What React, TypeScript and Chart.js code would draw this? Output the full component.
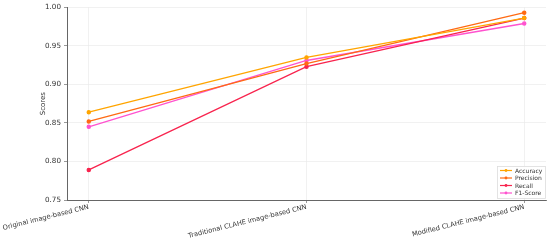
import React, { useEffect, useRef } from "react";
import { Chart, registerables } from "chart.js";

Chart.register(...registerables);

const categories = [
  "Original image-based CNN",
  "Traditional CLAHE image-based CNN",
  "Modified CLAHE image-based CNN",
];
const accuracy = [0.864, 0.935, 0.986];
const precision = [0.852, 0.927, 0.993];
const recall = [0.789, 0.923, 0.986];
const f1Score = [0.845, 0.931, 0.979];
const seriesNames = ["Accuracy", "Precision", "Recall", "F1-Score"];
const seriesColors = ["#ffa500", "#ff6a13", "#f8244e", "#ff52cf"];
const yTicks = [0.75, 0.8, 0.85, 0.9, 0.95, 1.0];

const FONT = "'DejaVu Sans', sans-serif";

const legendPlugin = {
  id: "boxLegend",
  afterDraw(chart: any) {
    const ctx = chart.ctx;
    const area = chart.chartArea;
    const w = 48;
    const h = 32;
    const x0 = area.right - w - 1;
    const y0 = area.bottom - h - 2;
    ctx.save();
    ctx.fillStyle = "rgba(255,255,255,0.9)";
    ctx.strokeStyle = "#dddddd";
    ctx.lineWidth = 0.8;
    ctx.fillRect(x0, y0, w, h);
    ctx.strokeRect(x0 + 0.5, y0 + 0.5, w, h);
    ctx.font = `6px ${FONT}`;
    ctx.textBaseline = "middle";
    chart.data.datasets.forEach((ds: any, i: number) => {
      const y = y0 + 4.5 + i * 7.5;
      ctx.strokeStyle = ds.borderColor;
      ctx.lineWidth = 1.2;
      ctx.beginPath();
      ctx.moveTo(x0 + 3, y);
      ctx.lineTo(x0 + 15, y);
      ctx.stroke();
      ctx.fillStyle = ds.borderColor;
      ctx.beginPath();
      ctx.arc(x0 + 9, y, 1.4, 0, Math.PI * 2);
      ctx.fill();
      ctx.fillStyle = "#333333";
      ctx.fillText(ds.label, x0 + 18, y + 0.5);
    });
    ctx.restore();
  },
};

export default function App() {
  const ref = useRef<HTMLCanvasElement | null>(null);
  useEffect(() => {
    document.body.style.margin = "0";
    const all = [accuracy, precision, recall, f1Score];
    const chart = new Chart(ref.current as HTMLCanvasElement, {
      type: "line",
      data: {
        datasets: all.map((vals, i) => ({
          label: seriesNames[i],
          data: vals.map((v, j) => ({ x: j, y: v })),
          borderColor: seriesColors[i],
          backgroundColor: seriesColors[i],
          borderWidth: 1.3,
          pointRadius: 1.6,
          pointHoverRadius: 1.6,
          tension: 0,
        })),
      },
      options: {
        animation: false,
        responsive: false,
        layout: { padding: { left: 39, right: 4, top: 6, bottom: 0 } },
        plugins: { legend: { display: false }, tooltip: { enabled: false } },
        scales: {
          x: {
            type: "linear",
            min: -0.1,
            max: 2.1,
            afterBuildTicks: (s: any) => {
              s.ticks = categories.map((_, i) => ({ value: i }));
            },
            afterFit: (s: any) => {
              s.height = 40;
              s.paddingLeft = 0;
              s.paddingRight = 0;
            },
            ticks: {
              callback: (v: any) => categories[v as number] ?? "",
              minRotation: 14,
              maxRotation: 14,
              autoSkip: false,
              color: "#333333",
              font: { family: FONT, size: 6.7 },
              padding: 0,
            },
            grid: {
              color: "#e8e8e8",
              lineWidth: 0.6,
              tickLength: 3,
              tickColor: "#555555",
            },
            border: { color: "#666666", width: 1 },
          },
          y: {
            min: 0.75,
            max: 1.0,
            afterBuildTicks: (s: any) => {
              s.ticks = yTicks.map((v) => ({ value: v }));
            },
            afterFit: (s: any) => {
              s.width = 28;
            },
            ticks: {
              callback: (v: any) => Number(v).toFixed(2),
              color: "#333333",
              font: { family: FONT, size: 7.2 },
              padding: 3,
            },
            title: {
              display: true,
              text: "Scores",
              color: "#333333",
              font: { family: FONT, size: 7 },
              padding: { top: 0, bottom: 0 },
            },
            grid: {
              color: "#e8e8e8",
              lineWidth: 0.6,
              tickLength: 3,
              tickColor: "#555555",
            },
            border: { color: "#666666", width: 1 },
          },
        },
      },
      plugins: [legendPlugin],
    } as any);
    return () => chart.destroy();
  }, []);
  return (
    <div style={{ width: 550, height: 240 }}>
      <canvas ref={ref} width={550} height={240} />
    </div>
  );
}
